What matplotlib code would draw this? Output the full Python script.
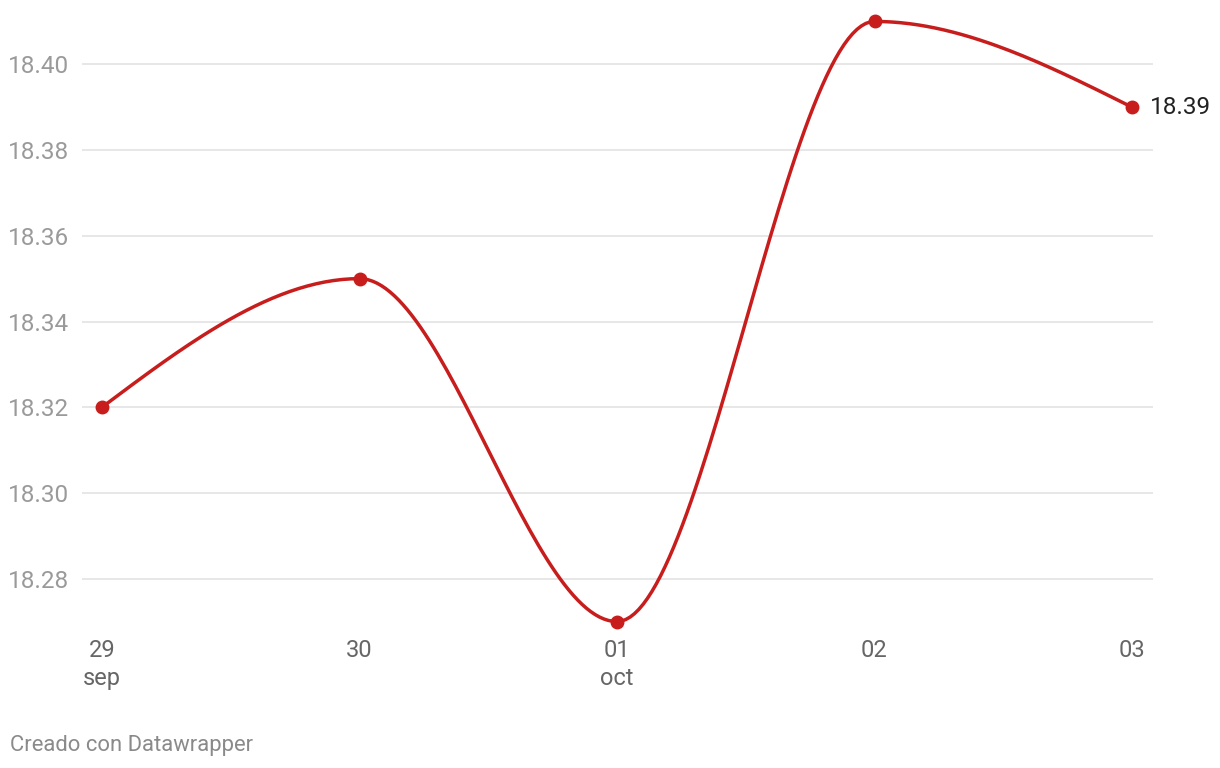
import numpy as np
import matplotlib
matplotlib.use('Agg')
import matplotlib.pyplot as plt

plt.rcParams['font.family'] = ['Roboto', 'DejaVu Sans']

# %% Data
days = ['29', '30', '01', '02', '03']
months = ['sep', '', 'oct', '', '']
values = [18.32, 18.35, 18.27, 18.41, 18.39]
yticks = [18.28, 18.30, 18.32, 18.34, 18.36, 18.38, 18.40]

red = '#c71e1d'


def monotone_x(x, y, n=60):
    """ d3 curveMonotoneX style curve through the points """
    x = np.asarray(x, float)
    y = np.asarray(y, float)
    h = np.diff(x)
    s = np.diff(y) / h
    t = np.zeros(len(x))
    for i in range(1, len(x) - 1):
        p = (s[i - 1] * h[i] + s[i] * h[i - 1]) / (h[i - 1] + h[i])
        t[i] = (np.sign(s[i - 1]) + np.sign(s[i])) * min(
            abs(s[i - 1]), abs(s[i]), 0.5 * abs(p))
    t[0] = (3 * s[0] - t[1]) / 2
    t[-1] = (3 * s[-1] - t[-2]) / 2
    xs, ys = [], []
    u = np.linspace(0, 1, n)
    for i in range(len(x) - 1):
        dx = h[i] / 3
        px = [x[i], x[i] + dx, x[i + 1] - dx, x[i + 1]]
        py = [y[i], y[i] + dx * t[i], y[i + 1] - dx * t[i + 1], y[i + 1]]
        b = [(1 - u) ** 3, 3 * u * (1 - u) ** 2, 3 * u ** 2 * (1 - u), u ** 3]
        xs.append(sum(bb * pp for bb, pp in zip(b, px)))
        ys.append(sum(bb * pp for bb, pp in zip(b, py)))
    return np.concatenate(xs), np.concatenate(ys)


# %% Plot
fig = plt.figure(figsize=(12.2, 7.68), dpi=100)
ax = fig.add_axes([82 / 1220, 125 / 768, (1153 - 82) / 1220, 643 / 768])

xpos = np.arange(len(values))
cx, cy = monotone_x(xpos, values)
ax.plot(cx, cy, color=red, lw=2.5, clip_on=False, zorder=3)
ax.plot(xpos, values, 'o', color=red, ms=9, clip_on=False, zorder=4)

ax.set_xlim(-20 / 257.5, 4 + 21 / 257.5)
ax.set_ylim(18.265, 18.415)
ax.set_yticks(yticks)
ax.set_yticklabels([f'{v:.2f}' for v in yticks])
ax.tick_params(axis='y', length=0, pad=9, labelsize=17.5, labelcolor='#9a9a9a')
ax.set_xticks([])
ax.grid(axis='y', color='#e3e3e3', lw=1.2)
for sp in ax.spines.values():
    sp.set_visible(False)

for i, (d, m) in enumerate(zip(days, months)):
    lab = d if not m else d + '\n' + m
    ax.annotate(lab, xy=(xpos[i], 0), xycoords=('data', 'axes fraction'),
                xytext=(0, 3), textcoords='offset points', ha='center',
                va='top', fontsize=17, color='#666666', linespacing=1.3)

ax.annotate(f'{values[-1]:.2f}', xy=(xpos[-1], values[-1]),
            xytext=(13, 0), textcoords='offset points', ha='left',
            va='center', fontsize=17.5, color='#222222')

fig.text(10 / 1220, 1 - 746 / 768, 'Creado con Datawrapper', ha='left',
         va='center', fontsize=15.8, color='#8a8a8a')

fig.savefig('out.png', dpi=100)
